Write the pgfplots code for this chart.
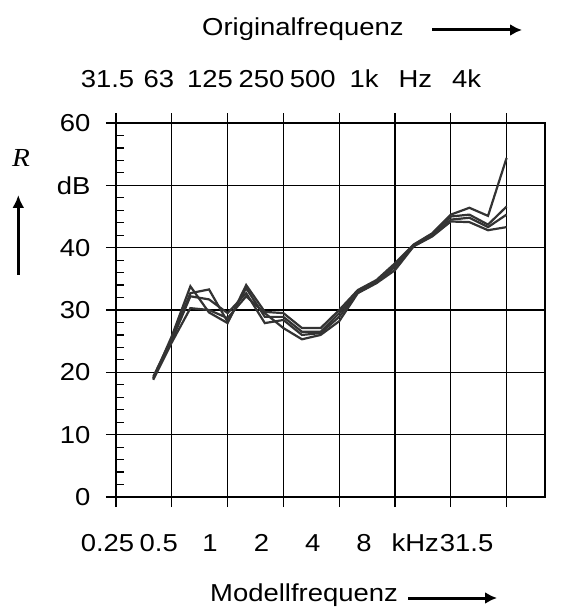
\documentclass[border=0pt]{standalone}
\usepackage{pgfplots}
\pgfplotsset{compat=1.18}
\usetikzlibrary{arrows.meta}
\usepackage{fontspec}
\setmainfont{Liberation Sans}[FakeStretch=1.12]
\newfontfamily\serifit{Liberation Serif}[FakeStretch=1.12,Ligatures=TeX]
\definecolor{curve}{HTML}{333333}

% third-octave band centres, in octaves above 0.25 kHz (model scale)
\pgfplotstableread{
x      a     b     c     d
0.667  19.0  19.3  19.0  18.8
1.000  25.8  25.4  25.1  24.8
1.333  33.8  32.7  32.2  30.3
1.667  29.6  33.3  31.7  30.0
2.000  27.9  28.1  29.5  28.7
2.333  34.0  33.5  32.7  32.2
2.667  29.7  28.9  27.9  29.5
3.000  29.5  28.9  28.4  27.1
3.333  27.1  26.5  26.0  25.3
3.667  27.1  26.5  26.3  26.0
4.000  30.0  29.5  28.9  28.2
4.333  33.2  33.0  32.8  32.7
4.667  34.8  34.6  34.4  34.3
5.000  37.5  37.2  36.9  36.4
5.333  40.5  40.4  40.3  40.2
5.667  42.3  42.2  42.0  41.8
6.000  45.3  45.0  44.5  44.2
6.333  46.4  45.3  44.8  44.1
6.667  45.1  43.7  43.3  42.8
7.000  54.4  46.6  45.3  43.3
}\levels

% shared geometry of the label layers
\pgfplotsset{labellayer/.style={
  at={(-16bp,0)}, anchor=south west,
  scale only axis, width=445bp, height=374bp,
  xmin=-0.1462, xmax=8.528, ymin=0, ymax=60,
  axis line style={draw=none},
  major tick length=0pt, tick style={draw=none},
  xtick={0,...,7},
}}

\begin{document}
\fontsize{24.5bp}{29bp}\selectfont
\begin{tikzpicture}
\path[use as bounding box] (-116bp,-116bp) rectangle (452bp,497bp);

% grid, ticks and curves
\begin{axis}[
  at={(0,0)}, anchor=south west,
  scale only axis, width=429bp, height=374bp,
  xmin=0, xmax=7.688, ymin=0, ymax=60,
  axis line style={black, line width=1.2bp},
  xtick={0,...,7}, xticklabels={},
  ytick={0,10,...,60}, yticklabels={},
  ytick pos=left,
  tick align=outside,
  major tick length=10bp,
  tick style={black, line width=1.2bp},
  extra y ticks={2,4,6,8,12,14,16,18,22,24,26,28,32,34,36,38,42,44,46,48,52,54,56,58},
  extra y tick labels={},
  extra y tick style={tick align=inside, major tick length=8bp, ymajorgrids=false},
  grid=major,
  major grid style={black, line width=1.1bp},
  clip=false,
]
\addplot[curve, line width=2.2bp] table[x=x, y=a] {\levels};
\addplot[curve, line width=2.2bp] table[x=x, y=b] {\levels};
\addplot[curve, line width=2.2bp] table[x=x, y=c] {\levels};
\addplot[curve, line width=2.2bp] table[x=x, y=d] {\levels};
\end{axis}

% model-frequency labels (bottom) and level labels (left)
\begin{axis}[
  labellayer,
  xticklabels={0.25,0.5,1,2,4,8,kHz,31.5},
  xtick pos=bottom,
  xticklabel style={anchor=base, inner sep=0pt, yshift=-54.7bp},
  ytick={0,10,...,60}, yticklabels={0,10,20,30,40,\raisebox{-4bp}{dB},60},
  ytick pos=left,
  yticklabel style={anchor=east, inner sep=0pt, xshift=-9.3bp},
]
\addplot[draw=none] coordinates {(1,1)};
\end{axis}

% original-frequency labels (top)
\begin{axis}[
  labellayer,
  xticklabels={31.5,63,125,250,500,1k,Hz,4k},
  xtick pos=top, xticklabel pos=upper,
  xticklabel style={anchor=base, inner sep=0pt, yshift=36bp},
  ytick=\empty,
]
\addplot[draw=none] coordinates {(1,1)};
\end{axis}

% axis titles with arrows
\node[anchor=base west, inner sep=0pt] at (86bp,461bp) {Originalfrequenz};
\draw[line width=3bp, -{Latex[length=12bp,width=12bp]}] (316bp,467bp) -- (406bp,467bp);
\node[anchor=base west, inner sep=0pt] at (94bp,-104.7bp) {Modellfrequenz};
\draw[line width=3bp, -{Latex[length=12bp,width=12bp]}] (292bp,-101bp) -- (381bp,-101bp);
\node[inner sep=0pt] at (-95bp,339.5bp) {\fontsize{26bp}{30bp}\serifit\itshape R};
\draw[line width=3bp, -{Latex[length=13bp,width=12bp]}] (-97.7bp,222bp) -- (-97.7bp,302bp);
\end{tikzpicture}
\end{document}
